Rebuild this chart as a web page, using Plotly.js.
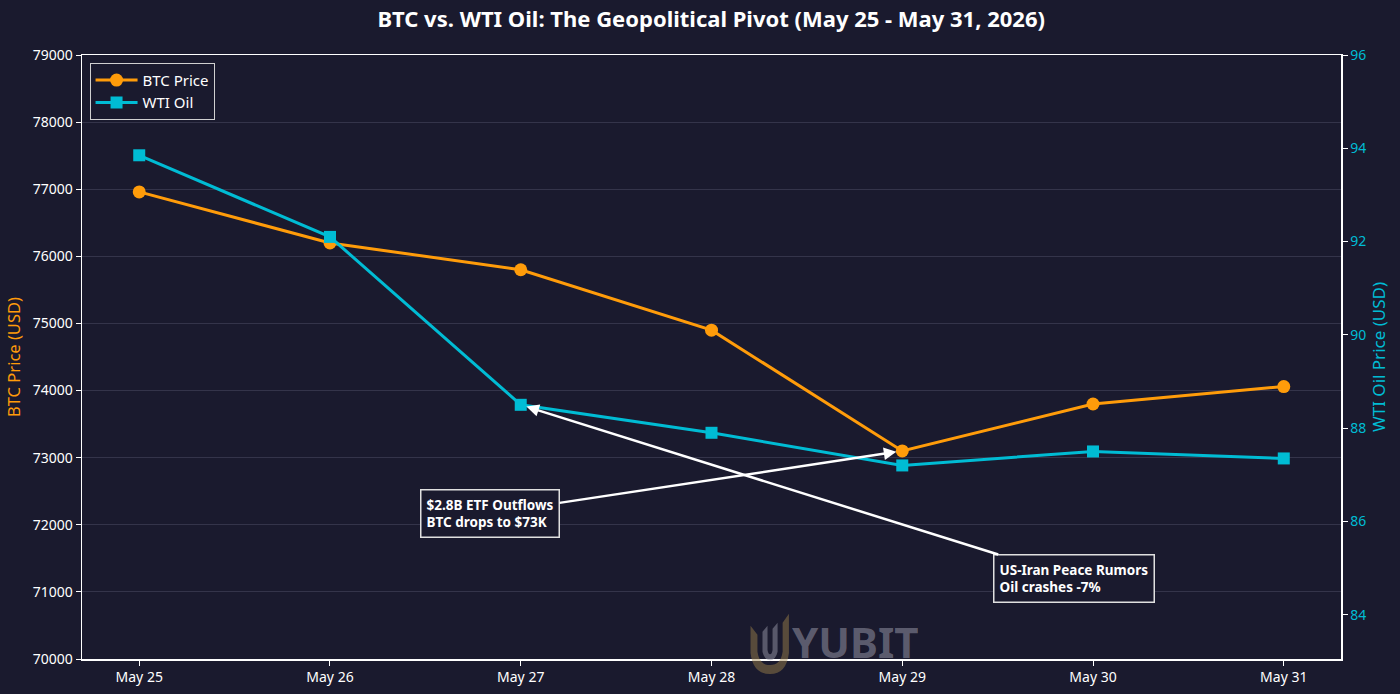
<!DOCTYPE html>
<html>
<head>
<meta charset="utf-8">
<script src="https://cdn.plot.ly/plotly-3.0.1.min.js"></script>
<style>html,body{margin:0;padding:0;background:#1a1a2e;}#chart{width:1400px;height:694px;}</style>
</head>
<body>
<div id="chart"></div>
<script>
const dates = ["May 25", "May 26", "May 27", "May 28", "May 29", "May 30", "May 31"];
const btcPrice = [76960, 76200, 75800, 74900, 73100, 73800, 74060];
const wtiOil = [93.85, 92.1, 88.5, 87.9, 87.2, 87.5, 87.35];
const btcTicks = [70000, 71000, 72000, 73000, 74000, 75000, 76000, 77000, 78000, 79000];
const wtiTicks = [84, 86, 88, 90, 92, 94, 96];

const BG = '#1a1a2e';
const ORANGE = '#ff9c0a';
const CYAN = '#00bcd4';
const FONT = 'Noto Sans, Open Sans, DejaVu Sans, sans-serif';
const idx = dates.map((d, i) => i);

const traces = [
  {
    x: idx, y: btcPrice, name: 'BTC Price', type: 'scatter', mode: 'lines+markers',
    line: {color: ORANGE, width: 3}, marker: {symbol: 'circle', size: 13, color: ORANGE},
    yaxis: 'y'
  },
  {
    x: idx, y: wtiOil, name: 'WTI Oil', type: 'scatter', mode: 'lines+markers',
    line: {color: CYAN, width: 3}, marker: {symbol: 'square', size: 12, color: CYAN},
    yaxis: 'y2'
  }
];

const layout = {
  width: 1400, height: 694,
  paper_bgcolor: BG, plot_bgcolor: BG,
  margin: {l: 82, r: 59, t: 55, b: 35},
  font: {family: FONT, color: '#ffffff', size: 14},
  title: {text: '<b>BTC vs. WTI Oil: The Geopolitical Pivot (May 25 - May 31, 2026)</b>',
          x: 0.508, xanchor: 'center', y: 0.972, yanchor: 'middle',
          font: {family: FONT, size: 22, color: '#ffffff'}},
  showlegend: true,
  legend: {x: 0.006, y: 0.987, xanchor: 'left', yanchor: 'top', bgcolor: BG,
           bordercolor: '#d0d0d0', borderwidth: 1, font: {size: 15, color: '#ffffff'},
           tracegroupgap: 0, itemwidth: 42},
  xaxis: {
    range: [-0.3, 6.3], tickmode: 'array', tickvals: idx, ticktext: dates,
    showgrid: false, zeroline: false, showline: true, linecolor: '#ffffff', linewidth: 1.5,
    mirror: true, ticks: 'outside', ticklen: 5, tickcolor: '#ffffff',
    tickfont: {size: 14, color: '#ffffff'}
  },
  yaxis: {
    range: [70000, 79000], tickmode: 'array', tickvals: btcTicks, ticktext: btcTicks.map(String),
    showgrid: true, gridcolor: '#34344a', gridwidth: 1, zeroline: false,
    showline: true, linecolor: '#ffffff', linewidth: 1.5, ticks: 'outside', ticklen: 5, tickcolor: '#ffffff',
    tickfont: {size: 14, color: '#ffffff'},
    title: {text: 'BTC Price (USD)', font: {size: 16.5, color: ORANGE}, standoff: 8}
  },
  yaxis2: {
    range: [83.05, 96.0], overlaying: 'y', side: 'right', tickmode: 'array', tickvals: wtiTicks,
    showgrid: false, zeroline: false, showline: true, linecolor: '#ffffff', linewidth: 1.5,
    ticks: 'outside', ticklen: 5, tickcolor: '#ffffff',
    tickfont: {size: 14, color: CYAN},
    title: {text: 'WTI Oil Price (USD)', font: {size: 17, color: CYAN}, standoff: 8}
  },
  annotations: [
    {
      x: 4, y: btcPrice[4], xref: 'x', yref: 'y',
      ax: 1.84, ay: 72170, axref: 'x', ayref: 'y',
      text: '<b>$2.8B ETF Outflows<br>BTC drops to $73K</b>', align: 'left',
      showarrow: true, arrowhead: 2, arrowsize: 1, arrowwidth: 2.5, arrowcolor: '#ffffff', standoff: 6,
      bgcolor: BG, bordercolor: '#e0e0e0', borderwidth: 1.5, borderpad: 5,
      font: {size: 13.5, color: '#ffffff', family: FONT}
    },
    {
      x: 2, y: wtiOil[2], xref: 'x', yref: 'y2',
      ax: 4.9, ay: 84.78, axref: 'x', ayref: 'y2',
      text: '<b>US-Iran Peace Rumors<br>Oil crashes -7%</b>', align: 'left',
      showarrow: true, arrowhead: 2, arrowsize: 1, arrowwidth: 2.5, arrowcolor: '#ffffff', standoff: 6,
      bgcolor: BG, bordercolor: '#e0e0e0', borderwidth: 1.5, borderpad: 5,
      font: {size: 13.5, color: '#ffffff', family: FONT}
    },
    {
      x: 0.614, y: 0.03, xref: 'paper', yref: 'paper', xanchor: 'center', yanchor: 'middle',
      text: '<b>YUBIT</b>', showarrow: false, height: 44,
      font: {size: 42, color: 'rgba(150,150,165,0.55)', family: FONT}
    }
  ],
  shapes: [
    {
      type: 'path', xref: 'paper', yref: 'paper',
      path: 'M 0.531 0.055 L 0.531 0.01 Q 0.533 -0.025 0.5465 -0.025 Q 0.5595 -0.025 0.5615 0.01 L 0.5615 0.075 L 0.5565 0.06 L 0.5565 0.012 Q 0.555 -0.01 0.5465 -0.01 Q 0.538 -0.01 0.5365 0.012 L 0.5365 0.04 Z',
      fillcolor: 'rgba(165,135,75,0.45)', line: {width: 0}
    },
    {
      type: 'path', xref: 'paper', yref: 'paper',
      path: 'M 0.5405 0.045 L 0.5405 0.012 Q 0.542 -0.002 0.5465 -0.002 Q 0.551 -0.002 0.5525 0.012 L 0.5525 0.06 L 0.5485 0.05 L 0.5485 0.015 Q 0.548 0.008 0.5465 0.008 Q 0.545 0.008 0.5445 0.015 L 0.5445 0.055 Z',
      fillcolor: 'rgba(150,150,165,0.5)', line: {width: 0}
    }
  ]
};

Plotly.newPlot('chart', traces, layout, {displayModeBar: false, staticPlot: true});
</script>
</body>
</html>
